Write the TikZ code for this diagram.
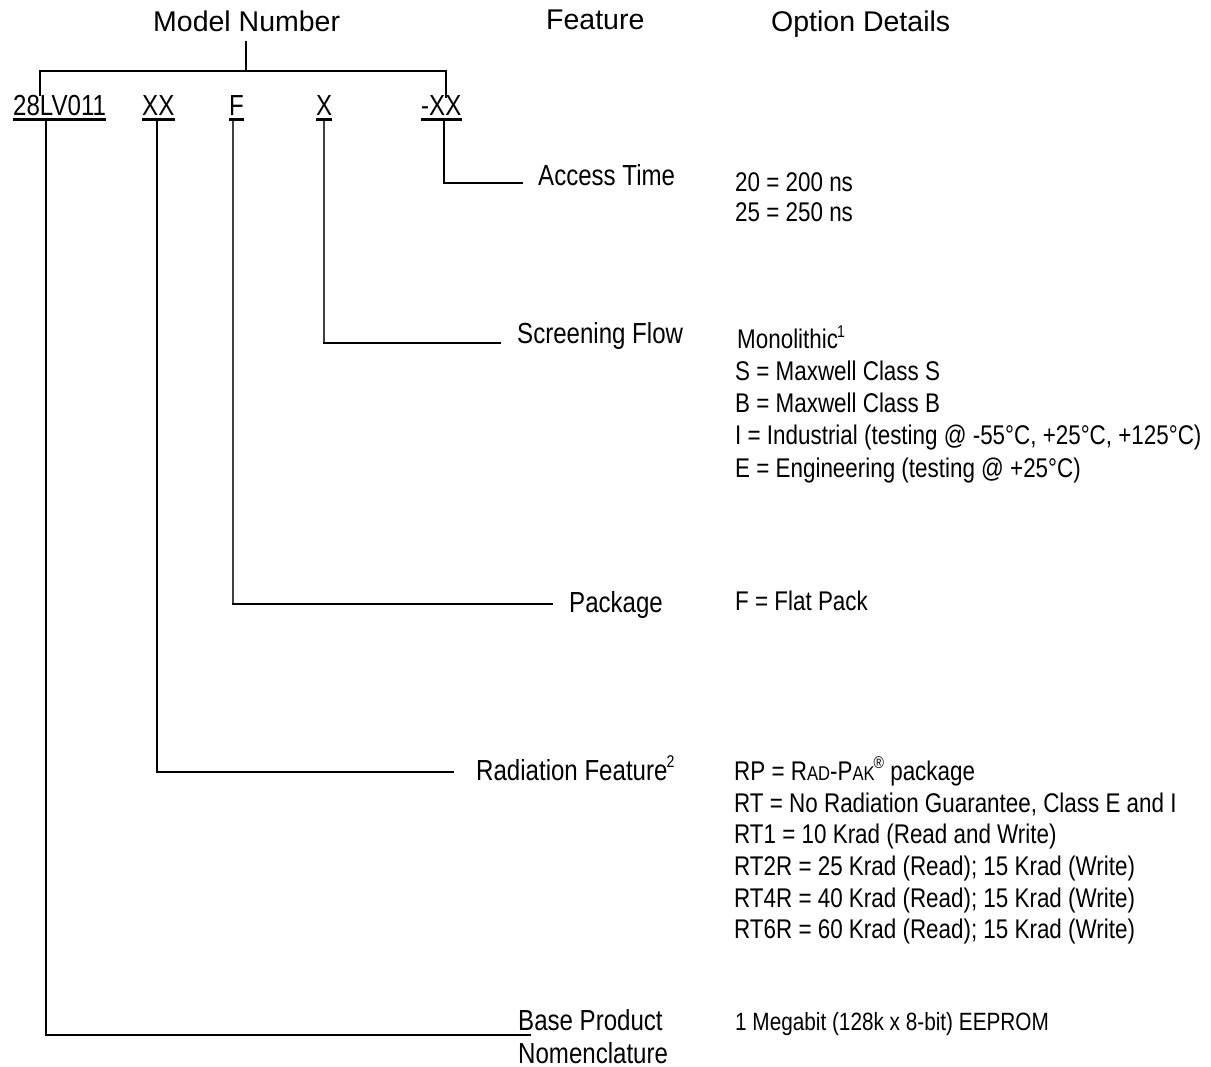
\documentclass[tikz,border=0pt]{standalone}
\usepackage{fontspec}
\setmainfont{Liberation Sans}
\newfontfamily\narrow[FakeStretch=0.83]{Liberation Sans}
\tikzset{
  hdr/.style={font=\fontsize{28.5}{30}\selectfont, inner sep=0pt, anchor=base west},
  code/.style={font=\narrow\fontsize{29}{30}\selectfont, inner sep=0pt, anchor=base west},
  feat/.style={font=\narrow\fontsize{29}{33}\selectfont, inner sep=0pt, anchor=base west},
  opt/.style={font=\narrow\fontsize{27}{31}\selectfont, inner sep=0pt, anchor=base west},
  ln/.style={line width=2pt, line cap=rect},
  thinln/.style={line width=1.2pt, black!75},
  ul/.style={line width=3pt}
}
\newcommand{\sups}[1]{\kern-1pt\raisebox{0.42em}{\fontsize{17}{17}\selectfont #1}}
\newcommand{\smc}[1]{{\fontsize{20}{20}\selectfont #1}}
\begin{document}
\begin{tikzpicture}[x=1pt,y=-1pt]
\useasboundingbox (0,0) rectangle (1211,1067);
% headers
\node[hdr] (hmodel) at (153,32) {Model Number};
\node[hdr] (hfeat) at (546,30) {Feature};
\node[hdr] (hopt) at (771,32) {Option Details};
% codes
\node[code] (c1) at (13,116) {28LV011};
\node[code] (c2) at (142,116) {XX};
\node[code] (c3) at (229,116) {F};
\node[code] (c4) at (316,116) {X};
\node[code] (c5) at (421,116) {-XX};
\foreach \c in {c1,c2,c3,c4,c5}{
  \draw[ul] ([yshift=-4pt]\c.base west) -- ([yshift=-4pt]\c.base east);
}
% bracket
\coordinate (btop) at (246,42);
\coordinate (bmid) at (246,71);
\coordinate (bl) at (40,95);
\coordinate (br) at (446,97);
\draw[ln] (btop) -- (bmid);
\draw[ln] (bl) |- (bmid) -| (br);
% features
\node[feat] (f1) at (538,186) {Access Time};
\node[feat] (f2) at (517,344) {Screening Flow};
\node[feat] (f3) at (569,612) {Package};
\node[feat] (f4) at (476,780) {Radiation Feature\sups{2}};
\node[feat, align=left, anchor=north west] (f5) at (518,1009) {Base Product\\Nomenclature};
% options
\node[opt] (o1a) at (735,192) {20 = 200 ns};
\node[opt] (o1b) at (735,222) {25 = 250 ns};
\node[opt] (o2a) at (737,349) {Monolithic\sups{1}};
\node[opt] (o2b) at (735,381) {S = Maxwell Class S};
\node[opt] (o2c) at (735,413) {B = Maxwell Class B};
\node[opt] (o2d) at (735,445) {I = Industrial (testing @ -55°C, +25°C, +125°C)};
\node[opt] (o2e) at (735,477) {E = Engineering (testing @ +25°C)};
\node[opt] (o3) at (735,610) {F = Flat Pack};
\node[opt] (o4a) at (734,780) {RP = R\smc{AD}-P\smc{AK}\sups{®} package};
\node[opt] (o4b) at (734,812) {RT = No Radiation Guarantee, Class E and I};
\node[opt] (o4c) at (734,843) {RT1 = 10 Krad (Read and Write)};
\node[opt] (o4d) at (734,875) {RT2R = 25 Krad (Read); 15 Krad (Write)};
\node[opt] (o4e) at (734,907) {RT4R = 40 Krad (Read); 15 Krad (Write)};
\node[opt] (o4f) at (734,938) {RT6R = 60 Krad (Read); 15 Krad (Write)};
\node[opt, font=\narrow\fontsize{25}{31}\selectfont] (o5) at (735,1030) {1 Megabit (128k x 8-bit) EEPROM};
% leader lines
\coordinate (e1) at (522,183);
\coordinate (e2) at (500,343);
\coordinate (e3) at (552,604);
\coordinate (e4) at (453,772);
\coordinate (e5) at (530,1035);
\draw[ln] (444,121) |- (e1);
\draw[thinln] (324,121) -- (324,343);
\draw[ln] (324,343) -- (e2);
\draw[thinln] (233,121) -- (233,604);
\draw[ln] (233,604) -- (e3);
\draw[ln] (157,121) |- (e4);
\draw[ln] (46,121) |- (e5);
\end{tikzpicture}
\end{document}
